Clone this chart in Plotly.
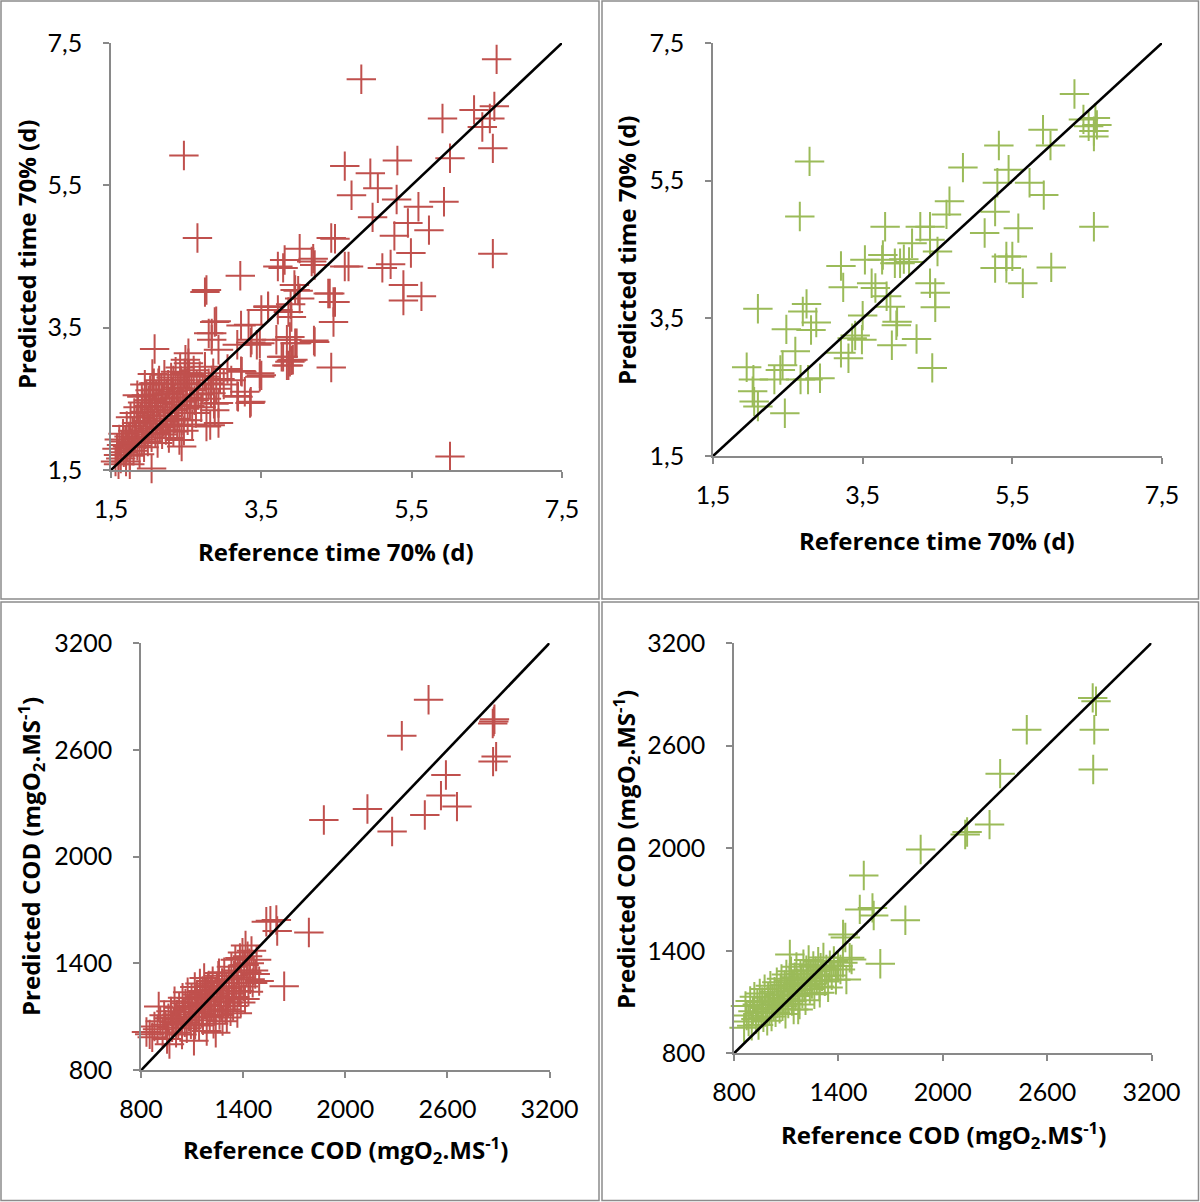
import plotly.graph_objects as go

# ---- time to reach 70 % (days): calibration set (red) ----
time_cal_ref = [
    6.63, 4.83, 2.47, 2.65, 5.91, 6.33, 6.60, 6.54, 6.44, 6.58, 6.01, 5.31, 4.61, 4.95,
    5.05, 4.70, 5.30, 5.93, 4.98, 5.59, 5.45, 5.73, 5.27, 5.49, 6.58, 5.22, 5.11, 5.39,
    5.39, 5.63, 6.01, 4.43, 4.48, 4.66, 4.01, 4.19, 4.21, 4.17, 3.81, 3.79, 3.72, 3.22,
    2.77, 2.75, 4.41, 4.46, 4.46, 4.21, 4.43, 3.94, 3.95, 4.01, 2.08,
    3.59, 3.72, 3.86, 3.90, 3.50, 3.33, 3.37, 3.48, 3.70, 3.84, 3.95, 3.77, 3.90, 3.86,
    3.50, 3.24, 3.28, 3.35, 3.19, 2.93, 2.88, 2.93, 2.77, 2.44, 2.04, 2.88, 2.84, 2.84,
    2.93, 2.53, 2.53, 2.48, 2.75, 2.84, 3.88, 3.97, 3.88, 3.79, 3.48, 3.44, 2.49, 2.42,
    2.52, 2.90, 2.80, 3.23, 3.18, 3.36, 3.23, 3.48, 3.18, 3.36, 2.87, 2.82, 3.59, 3.92,
    3.89, 3.99, 3.84, 4.20, 4.61, 4.39, 4.48,
    1.56, 1.58, 1.60, 1.61, 1.63, 1.64, 1.66, 1.67, 1.69, 1.70, 1.71, 1.72, 1.74, 1.75,
    1.76, 1.77, 1.79, 1.80, 1.81, 1.82, 1.84, 1.85, 1.86, 1.87, 1.88, 1.89, 1.91, 1.92,
    1.93, 1.94, 1.95, 1.96, 1.97, 1.98, 1.99, 2.00, 2.01, 2.02, 2.03, 2.04, 2.05, 2.06,
    2.07, 2.08, 2.09, 2.10, 2.11, 2.12, 2.13, 2.14, 2.15, 2.16, 2.17, 2.18, 2.19, 2.20,
    2.21, 2.22, 2.23, 2.24, 2.25, 2.26, 2.27, 2.28, 2.29, 2.30, 2.31, 2.32, 2.33, 2.34,
    2.35, 2.36, 2.37, 2.38, 2.39, 2.40, 2.41, 2.42, 2.43, 2.44, 2.45, 2.46, 2.47, 2.48,
    2.50, 2.51, 2.52, 2.54, 2.55, 2.57, 2.58, 2.60, 2.61, 2.63, 2.64, 2.66, 2.68, 2.70,
    2.72, 2.75, 2.77, 2.80, 2.83, 2.86, 2.90, 2.95, 3.00, 3.05, 3.10,
    1.60, 1.75, 1.91, 2.00, 2.13, 2.33, 1.85, 1.95, 2.05,
]
time_cal_pred = [
    7.27, 6.99, 5.92, 4.76, 6.44, 6.56, 6.61, 6.44, 6.32, 6.02, 5.88, 5.85, 5.77, 5.67,
    5.46, 5.36, 5.30, 5.27, 5.05, 5.20, 4.97, 4.87, 4.79, 4.55, 4.54, 4.39, 4.34, 4.10,
    3.88, 3.94, 1.69, 4.76, 4.75, 4.36, 4.61, 4.47, 4.38, 4.43, 4.45, 4.34, 4.36, 4.23,
    4.03, 4.00, 3.98, 3.86, 3.58, 3.30, 2.94, 4.10, 4.03, 3.91, 3.20,
    3.79, 3.75, 3.72, 3.65, 3.75, 3.54, 3.33, 3.28, 3.33, 3.33, 3.28, 3.09, 3.04, 2.97,
    2.83, 2.88, 2.60, 2.44, 2.53, 2.44, 2.34, 2.16, 2.11, 1.83, 1.52, 3.58, 3.42, 3.33,
    3.19, 3.14, 3.00, 2.86, 2.81, 2.76, 3.37, 3.28, 3.02, 3.09, 2.86, 3.26, 3.05, 2.94,
    2.86, 3.59, 3.42, 3.53, 3.26, 3.29, 2.89, 2.81, 2.54, 2.46, 2.43, 2.13, 3.80, 3.05,
    3.83, 4.02, 2.97, 3.32, 4.36, 3.98, 3.86,
    1.62, 1.80, 1.71, 1.93, 1.66, 1.85, 2.01, 1.75, 1.90, 1.62, 2.12, 1.83, 1.97, 1.70,
    2.24, 1.88, 2.05, 1.77, 2.30, 1.95, 2.16, 1.84, 2.38, 2.03, 1.72, 2.24, 1.93, 2.45,
    2.11, 1.82, 2.32, 2.00, 2.55, 2.19, 1.90, 2.40, 2.08, 2.62, 2.27, 1.96, 2.48, 2.15,
    2.72, 2.35, 2.02, 2.56, 2.22, 1.88, 2.44, 2.76, 2.10, 2.31, 2.63, 2.00, 2.50, 2.18,
    2.84, 2.38, 2.06, 2.58, 2.26, 2.70, 1.95, 2.46, 2.14, 2.80, 2.34, 2.60, 2.04, 2.52,
    2.22, 2.88, 2.42, 2.12, 2.66, 2.30, 1.92, 2.56, 2.76, 2.20, 2.46, 2.64, 2.05, 2.36,
    2.72, 2.52, 2.20, 2.84, 2.40, 2.62, 2.14, 2.90, 2.48, 2.30, 2.70, 2.56, 2.82, 2.38,
    2.64, 2.95, 2.50, 2.72, 2.58, 2.86, 2.64, 2.78, 2.70, 2.92, 2.76,
    1.58, 1.58, 2.53, 2.48, 2.72, 2.76, 2.55, 2.70, 2.85,
]

# ---- time to reach 70 % (days): validation set (green) ----
time_val_ref = [
    6.33, 6.45, 6.61, 6.63, 6.59, 6.59, 6.52, 5.91, 6.01, 5.32, 4.84, 5.45, 5.30, 5.73,
    5.92, 4.66, 4.62, 5.27, 5.13, 5.58, 6.59, 2.79, 2.66, 3.80, 4.27, 4.40, 4.16, 4.40,
    4.50, 3.77, 3.76, 4.00, 3.53, 3.21, 5.42, 5.50, 5.27, 5.42, 6.02, 5.64, 4.40, 4.47,
    4.47, 3.62, 3.67, 3.24, 3.82, 3.87, 3.96, 3.95, 3.50, 3.40, 3.49, 3.36, 3.89, 4.22,
    4.43, 3.21, 3.31, 2.75, 2.70, 2.88, 2.81, 2.10, 2.48, 2.60, 2.43, 2.40, 1.95, 2.04,
    2.32, 2.67, 2.77, 2.93, 2.03, 2.05, 2.10, 2.46, 3.93, 4.05, 4.12,
]
time_val_pred = [
    6.76, 6.39, 6.41, 6.31, 6.22, 6.14, 6.29, 6.24, 6.01, 6.01, 5.69, 5.66, 5.47, 5.47,
    5.29, 5.20, 5.01, 5.05, 4.74, 4.81, 4.83, 5.78, 4.98, 4.83, 4.83, 4.83, 4.59, 4.64,
    4.47, 4.42, 4.35, 4.30, 4.35, 4.26, 4.40, 4.40, 4.23, 4.23, 4.24, 4.01, 4.01, 3.87,
    3.66, 4.01, 3.94, 3.95, 3.82, 3.67, 3.45, 3.40, 3.54, 3.25, 3.19, 3.21, 3.11, 3.20,
    2.78, 3.00, 2.92, 3.71, 3.60, 3.44, 3.33, 3.64, 3.34, 3.02, 2.82, 2.75, 2.79, 2.61,
    2.61, 2.61, 2.61, 2.63, 2.44, 2.29, 2.22, 2.12, 4.30, 4.36, 4.32,
]

# ---- COD (mgO2.MS-1): calibration set (red) ----
cod_cal_ref = [
    2489, 2332, 2872, 2876, 2866, 2886, 2868, 2591, 2562, 2656, 2467, 2130, 1874, 2275,
    1536, 1595, 1600, 1786, 1641, 1560,
    832, 851, 866, 879, 897, 904, 913, 927, 936, 944, 953, 961, 967, 976, 983, 991, 997,
    1006, 1011, 1019, 1024, 1033, 1041, 1044, 1052, 1057, 1061, 1069, 1074, 1082, 1087,
    1093, 1097, 1103, 1111, 1116, 1121, 1126, 1129, 1136, 1141, 1146, 1149, 1156, 1161,
    1164, 1171, 1176, 1179, 1186, 1191, 1194, 1201, 1204, 1211, 1214, 1221, 1226, 1229,
    1236, 1239, 1246, 1251, 1254, 1261, 1264, 1271, 1276, 1279, 1286, 1289, 1296, 1301,
    1304, 1311, 1316, 1319, 1326, 1331, 1334, 1341, 1346, 1351, 1354, 1361, 1366, 1369,
    1376, 1381, 1386, 1389, 1396, 1401, 1406, 1411, 1414, 1421, 1426, 1431, 1436, 1441,
    1449, 1456, 1461, 1471, 1479, 1494, 1002, 1083, 1148, 1198, 1258, 1118, 1183,
]
cod_cal_pred = [
    2881, 2679, 2759, 2772, 2748, 2562, 2534, 2459, 2343, 2281, 2234, 2268, 2206, 2141,
    1634, 1644, 1582, 1574, 1272, 1640,
    1015, 1002, 986, 1046, 1031, 1158, 1076, 1012, 1109, 1056, 976, 1092, 947, 1131,
    1041, 1071, 1188, 1011, 1114, 1061, 1151, 1086, 1001, 1208, 1126, 1069, 1176, 1036,
    1238, 1101, 1161, 1059, 1206, 1129, 966, 1268, 1181, 1096, 1226, 1151, 1051, 1288,
    1201, 1121, 1246, 1081, 1318, 1171, 1231, 1021, 1141, 1271, 1196, 1101, 1251, 1161,
    1301, 1061, 1216, 1131, 1011, 1271, 1186, 1331, 1111, 1231, 1161, 1291, 1076, 1206,
    1351, 1141, 1261, 1096, 1181, 1311, 1231, 1131, 1381, 1271, 1161, 1331, 1211, 1421,
    1291, 1121, 1361, 1246, 1431, 1181, 1321, 1461, 1271, 1391, 1201, 1501, 1351, 1441,
    1241, 1401, 1311, 1471, 1291, 1361, 1341, 1421, 1301, 1096, 1141, 1216, 1276, 1346,
    1056, 1246,
]

# ---- COD (mgO2.MS-1): validation set (green) ----
cod_val_ref = [
    2862, 2881, 2871, 2865, 2483, 2330, 2269, 2129, 1873, 1546, 1523, 1596, 1603, 1785,
    1427, 1440, 1641, 2140,
    858, 866, 873, 884, 893, 902, 909, 917, 926, 934, 941, 948, 957, 962, 969, 976, 982,
    991, 996, 1003, 1009, 1016, 1021, 1028, 1033, 1039, 1046, 1051, 1057, 1062, 1068,
    1073, 1079, 1084, 1091, 1096, 1101, 1107, 1112, 1118, 1122, 1128, 1133, 1139, 1143,
    1149, 1154, 1159, 1166, 1171, 1177, 1182, 1188, 1193, 1199, 1204, 1211, 1216, 1222,
    1229, 1236, 1241, 1248, 1256, 1262, 1269, 1276, 1284, 1291, 1298, 1306, 1314, 1322,
    1331, 1341, 1351, 1362, 1374, 1386, 1398, 1412, 1426, 1446, 1465, 1476, 1121, 1169,
    1293, 1198, 1351,
]
cod_val_pred = [
    2879, 2859, 2693, 2460, 2693, 2436, 2138, 2080, 1992, 1840, 1642, 1651, 1606, 1579,
    1495, 1478, 1324, 2095,
    950, 1077, 1021, 986, 1106, 962, 1046, 1131, 1001, 1086, 966, 1151, 1036, 1101, 1011,
    1176, 1066, 991, 1126, 1056, 1196, 1016, 1111, 1081, 1161, 1041, 1216, 1096, 1141,
    1061, 1181, 1236, 1076, 1121, 1201, 1031, 1261, 1146, 1091, 1226, 1166, 1281, 1106,
    1191, 1056, 1246, 1136, 1306, 1211, 1171, 1086, 1266, 1231, 1151, 1321, 1196, 1111,
    1286, 1241, 1346, 1176, 1261, 1206, 1311, 1146, 1281, 1226, 1336, 1191, 1301, 1251,
    1361, 1221, 1291, 1186, 1316, 1256, 1341, 1231, 1311, 1291, 1330, 1232, 1359, 1349,
    1379, 1057, 1155,
]

# 1:1 reference lines
identity_time = [1.5, 7.5]
identity_cod = [800, 3200]

time_ticks = [1.5, 3.5, 5.5, 7.5]
time_tick_labels = ["1,5", "3,5", "5,5", "7,5"]
cod_ticks = [800, 1400, 2000, 2600, 3200]
cod_tick_labels = ["800", "1400", "2000", "2600", "3200"]

RED = "#C0504D"
GREEN = "#9BBB59"
AXIS_GREY = "#898989"
TICK_FONT = "Lato"
TITLE_FONT = "Open Sans"

fig = go.Figure()

panels = [
    # (x, y, colour, identity, axis suffix)
    (time_cal_ref, time_cal_pred, RED, identity_time, ""),
    (time_val_ref, time_val_pred, GREEN, identity_time, "2"),
    (cod_cal_ref, cod_cal_pred, RED, identity_cod, "3"),
    (cod_val_ref, cod_val_pred, GREEN, identity_cod, "4"),
]

for xs, ys, colour, ident, sfx in panels:
    fig.add_trace(go.Scatter(
        x=xs, y=ys, mode="markers", xaxis="x" + sfx, yaxis="y" + sfx,
        marker=dict(symbol="cross-thin", size=21, color=colour,
                    line=dict(color=colour, width=2)),
        cliponaxis=False, showlegend=False, hoverinfo="x+y",
    ))
    fig.add_trace(go.Scatter(
        x=ident, y=ident, mode="lines", xaxis="x" + sfx, yaxis="y" + sfx,
        line=dict(color="black", width=2.6), showlegend=False, hoverinfo="skip",
    ))

W, H = 1200, 1202


def px_x(a, b):
    return [a / W, b / W]


def px_y(top, bottom):
    return [(H - bottom) / H, (H - top) / H]


def axis_style(rng, vals, labels, dom, anchor, standoff):
    return dict(
        range=rng, tickvals=vals, ticktext=labels, domain=dom, anchor=anchor,
        showline=True, linecolor=AXIS_GREY, linewidth=1.6, automargin=False,
        ticks="outside", ticklen=6, tickwidth=1.6, tickcolor=AXIS_GREY,
        showgrid=False, zeroline=False, ticklabelstandoff=standoff,
        tickfont=dict(family=TICK_FONT, size=25, color="black"),
        fixedrange=True,
    )


layout_axes = {
    "xaxis": axis_style([1.5, 7.5], time_ticks, time_tick_labels, px_x(111, 562), "y", 10),
    "yaxis": axis_style([1.5, 7.5], time_ticks, time_tick_labels, px_y(43, 470), "x", 16),
    "xaxis2": axis_style([1.5, 7.5], time_ticks, time_tick_labels, px_x(713, 1162), "y2", 10),
    "yaxis2": axis_style([1.5, 7.5], time_ticks, time_tick_labels, px_y(43, 456), "x2", 16),
    "xaxis3": axis_style([800, 3200], cod_ticks, cod_tick_labels, px_x(141, 549.6), "y3", 10),
    "yaxis3": axis_style([800, 3200], cod_ticks, cod_tick_labels, px_y(643, 1070.3), "x3", 16),
    "xaxis4": axis_style([800, 3200], cod_ticks, cod_tick_labels, px_x(734, 1151.5), "y4", 10),
    "yaxis4": axis_style([800, 3200], cod_ticks, cod_tick_labels, px_y(643, 1053.4), "x4", 16),
}

title_font = dict(family=TITLE_FONT, size=24, color="black", weight="bold")
x_time = "Reference time 70% (d)"
y_time = "Predicted time 70% (d)"
x_cod = "Reference COD (mgO<sub>2</sub>.MS<sup>-1</sup>)"
y_cod = "Predicted COD (mgO<sub>2</sub>.MS<sup>-1</sup>)"

titles = [
    (x_time, 336, 551, 0), (y_time, 26, 254, -90),
    (x_time, 937, 540, 0), (y_time, 626, 250, -90),
    (x_cod, 345, 1150, 0), (y_cod, 31, 857, -90),
    (x_cod, 943, 1135, 0), (y_cod, 626, 849, -90),
]
annotations = [
    dict(text=t, x=cx / W, y=(H - cy) / H, xref="paper", yref="paper",
         xanchor="center", yanchor="middle", showarrow=False,
         textangle=ang, font=title_font)
    for t, cx, cy, ang in titles
]

# panel frames
frames = [(1, 1, 599, 599), (602, 1, 1198.5, 599), (1, 602, 599, 1200.5), (602, 602, 1198.5, 1200.5)]
shapes = [
    dict(type="rect", xref="paper", yref="paper",
         x0=x0 / W, x1=x1 / W, y0=(H - y1) / H, y1=(H - y0) / H,
         line=dict(color="#8C8C8C", width=1.5), fillcolor="rgba(0,0,0,0)", layer="below")
    for x0, y0, x1, y1 in frames
]

fig.update_layout(
    template="none",
    width=W, height=H, margin=dict(l=0, r=0, t=0, b=0, autoexpand=False),
    paper_bgcolor="white", plot_bgcolor="white",
    annotations=annotations, shapes=shapes,
    font=dict(family=TICK_FONT),
    **layout_axes,
)

fig.write_html("out.html", config={"displayModeBar": False})
